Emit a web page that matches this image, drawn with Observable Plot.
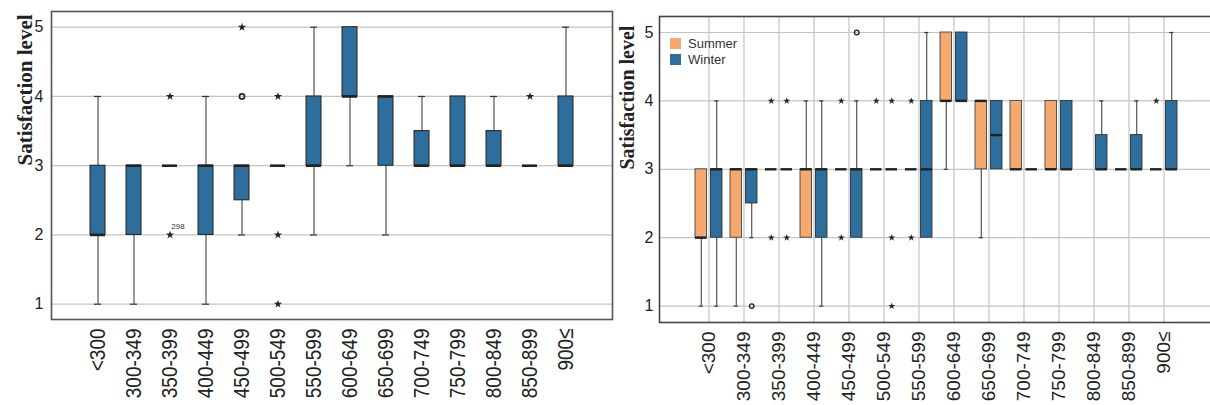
<!DOCTYPE html>
<html>
<head>
<meta charset="utf-8">
<script src="https://cdn.jsdelivr.net/npm/d3@7"></script>
<script src="https://cdn.jsdelivr.net/npm/@observablehq/plot@0.6"></script>
<style>
  html, body { margin: 0; padding: 0; background: #fff; overflow: hidden; }
  #wrap { position: relative; width: 1210px; height: 405px; overflow: hidden; display: flex; }
  #left { width: 616px; flex: none; }
  #right { width: 604px; flex: none; }
  svg { overflow: visible; }
  #legend { position: absolute; left: 670px; top: 36px; font-family: "Liberation Sans", Arial, sans-serif; font-size: 13px; color: #333; line-height: 15.5px; }
  #legend .row { display: flex; align-items: center; }
  #legend .sw { width: 11px; height: 11px; margin-right: 7px; }
</style>
</head>
<body>
<div id="wrap">
  <div id="left"></div>
  <div id="right"></div>
  <div id="legend"></div>
</div>
<script>
// ---------- categories ----------
const incomeBands = ["<300","300-349","350-399","400-449","450-499","500-549","550-599","600-649","650-699","700-749","750-799","800-849","850-899","900≤"];
const yTicks = [1, 2, 3, 4, 5];
const yLabel = "Satisfaction level";
const seasons = ["Summer", "Winter"];
const seasonColors = ["#f5a96e", "#2d6e9c"];

// ---------- left panel: all respondents ----------
const allQ1     = [2, 2,   3, 2, 2.5, 3, 3, 4, 3, 3,   3, 3,   3, 3];
const allQ3     = [3, 3,   3, 3, 3,   3, 4, 5, 4, 3.5, 4, 3.5, 3, 4];
const allMedian = [2, 3,   3, 3, 3,   3, 3, 4, 4, 3,   3, 3,   3, 3];
const allLow    = [1, 1,   3, 1, 2,   3, 2, 3, 2, 3,   3, 3,   3, 3];
const allHigh   = [4, 3,   3, 4, 3,   3, 5, 5, 4, 4,   4, 4,   3, 5];
const allStarBand  = ["350-399","350-399","450-499","500-549","500-549","500-549","850-899"];
const allStarValue = [4, 2, 5, 4, 2, 1, 4];
const allCircleBand  = ["450-499"];
const allCircleValue = [4];
const allCaseBand  = ["350-399"];
const allCaseValue = [2];
const allCaseLabel = ["298"];

// ---------- right panel: summer ----------
const sumQ1     = [2, 2, 3, 2, 3, 3, 3, 4, 3, 3, 3, null, 3, 3];
const sumQ3     = [3, 3, 3, 3, 3, 3, 3, 5, 4, 4, 4, null, 3, 3];
const sumMedian = [2, 3, 3, 3, 3, 3, 3, 4, 4, 3, 3, null, 3, 3];
const sumLow    = [1, 1, 3, 2, 3, 3, 3, 3, 2, 3, 3, null, 3, 3];
const sumHigh   = [3, 3, 3, 4, 3, 3, 3, 5, 4, 4, 4, null, 3, 3];
const sumStarBand  = ["350-399","350-399","450-499","450-499","500-549","550-599","550-599","900≤"];
const sumStarValue = [4, 2, 4, 2, 4, 4, 2, 4];

// ---------- right panel: winter ----------
const winQ1     = [2, 2.5, 3, 2, 2, 3, 2, 4, 3,   3, 3, 3,   3,   3];
const winQ3     = [3, 3,   3, 3, 3, 3, 4, 5, 4,   3, 4, 3.5, 3.5, 4];
const winMedian = [3, 3,   3, 3, 3, 3, 3, 4, 3.5, 3, 3, 3,   3,   3];
const winLow    = [1, 2,   3, 1, 2, 3, 2, 4, 3,   3, 3, 3,   3,   3];
const winHigh   = [4, 3,   3, 4, 4, 3, 5, 5, 4,   3, 4, 4,   4,   5];
const winStarBand  = ["350-399","350-399","500-549","500-549","500-549"];
const winStarValue = [4, 2, 4, 2, 1];
const winCircleBand  = ["300-349","450-499"];
const winCircleValue = [1, 5];

// ---------- helpers ----------
function boxRows(q1, q3, med, lo, hi) {
  return incomeBands.map((band, i) => ({band, q1: q1[i], q3: q3[i], median: med[i], lo: lo[i], hi: hi[i]}))
    .filter(d => d.q1 != null);
}
function pointRows(bands, values) {
  return bands.map((band, i) => ({band, value: values[i]}));
}
function stretchXLabels(svg, k) {
  svg.querySelectorAll('g[aria-label="x-axis tick label"] text').forEach(t => {
    const tr = t.getAttribute("transform") || "";
    t.setAttribute("transform", tr + ` scale(1,${k})`);
  });
}

const FONT = "Liberation Sans, Arial, sans-serif";
const INK = "#222";

// ---------- left chart ----------
const allRows = boxRows(allQ1, allQ3, allMedian, allLow, allHigh);
const left = Plot.plot({
  width: 616, height: 405,
  marginLeft: 51, marginRight: 4, marginTop: 11, marginBottom: 86,
  style: {fontFamily: FONT, background: "transparent", overflow: "visible"},
  x: {type: "band", domain: incomeBands, paddingInner: 0.583, paddingOuter: 1.083, label: null},
  y: {domain: [0.779, 5.227], label: null},
  marks: [
    Plot.gridY(yTicks, {stroke: "#c4c4c4", strokeOpacity: 1, strokeWidth: 1.2}),
    Plot.ruleX(allRows, {x: "band", y1: "lo", y2: "hi", stroke: "#333", strokeWidth: 1}),
    Plot.tickY(allRows.filter(d => d.lo < d.q1), {x: "band", y: "lo", stroke: "#333", strokeWidth: 1.2, insetLeft: 4, insetRight: 4}),
    Plot.tickY(allRows.filter(d => d.hi > d.q3), {x: "band", y: "hi", stroke: "#333", strokeWidth: 1.2, insetLeft: 4, insetRight: 4}),
    Plot.barY(allRows, {x: "band", y1: "q1", y2: "q3", fill: seasonColors[1], stroke: INK, strokeWidth: 1}),
    Plot.tickY(allRows, {x: "band", y: "median", stroke: INK, strokeWidth: 2.6}),
    Plot.dot(pointRows(allStarBand, allStarValue), {x: "band", y: "value", symbol: "star", fill: INK, r: 2.6}),
    Plot.dot(pointRows(allCircleBand, allCircleValue), {x: "band", y: "value", symbol: "circle", stroke: INK, strokeWidth: 1.6, fill: "none", r: 2.6}),
    Plot.text(allCaseBand.map((band, i) => ({band, value: allCaseValue[i], label: allCaseLabel[i]})), {x: "band", y: "value", text: "label", dx: 8, dy: -9, fontSize: 8, fill: "#333"}),
    Plot.frame({stroke: "#555", strokeWidth: 1.6}),
    Plot.axisY(yTicks, {tickSize: 0, tickPadding: 8, fontSize: 16, fill: INK, label: null, tickFormat: "d"}),
    Plot.axisX({tickSize: 0, tickPadding: 9, tickRotate: -90, fontSize: 19, fill: INK, label: null}),
    Plot.text([yLabel], {frameAnchor: "left", rotate: -90, dx: -26, fontSize: 21, fontWeight: "bold", fontFamily: "Liberation Serif, Times New Roman, serif", fill: INK})
  ]
});
stretchXLabels(left, 1.2);
document.getElementById("left").append(left);

// ---------- right chart ----------
const sumRows = boxRows(sumQ1, sumQ3, sumMedian, sumLow, sumHigh);
const winRows = boxRows(winQ1, winQ3, winMedian, winLow, winHigh);
const OFF = 7.75, INSET = 15.5, CAPIN = 3.75, CAPOUT = 19.25;
const right = Plot.plot({
  width: 604, height: 405,
  marginLeft: 43, marginRight: 7, marginTop: 16, marginBottom: 83,
  style: {fontFamily: FONT, background: "transparent", overflow: "visible"},
  x: {type: "band", domain: incomeBands, paddingInner: 0.222, paddingOuter: 0.806, label: null},
  y: {domain: [0.76, 5.234], label: null},
  marks: [
    Plot.gridY(yTicks, {stroke: "#c4c4c4", strokeOpacity: 1, strokeWidth: 1.2}),
    Plot.gridX({stroke: "#c4c4c4", strokeOpacity: 1, strokeWidth: 1.2}),
    // summer
    Plot.ruleX(sumRows, {x: "band", y1: "lo", y2: "hi", dx: -OFF, stroke: "#333", strokeWidth: 1}),
    Plot.tickY(sumRows.filter(d => d.lo < d.q1), {x: "band", y: "lo", stroke: "#333", strokeWidth: 1.2, insetLeft: CAPIN, insetRight: CAPOUT}),
    Plot.tickY(sumRows.filter(d => d.hi > d.q3), {x: "band", y: "hi", stroke: "#333", strokeWidth: 1.2, insetLeft: CAPIN, insetRight: CAPOUT}),
    Plot.barY(sumRows, {x: "band", y1: "q1", y2: "q3", fill: seasonColors[0], stroke: "#444", strokeWidth: 0.9, insetRight: INSET}),
    Plot.tickY(sumRows, {x: "band", y: "median", stroke: INK, strokeWidth: 2.4, insetRight: INSET}),
    // winter
    Plot.ruleX(winRows, {x: "band", y1: "lo", y2: "hi", dx: OFF, stroke: "#333", strokeWidth: 1}),
    Plot.tickY(winRows.filter(d => d.lo < d.q1), {x: "band", y: "lo", stroke: "#333", strokeWidth: 1.2, insetLeft: CAPOUT, insetRight: CAPIN}),
    Plot.tickY(winRows.filter(d => d.hi > d.q3), {x: "band", y: "hi", stroke: "#333", strokeWidth: 1.2, insetLeft: CAPOUT, insetRight: CAPIN}),
    Plot.barY(winRows, {x: "band", y1: "q1", y2: "q3", fill: seasonColors[1], stroke: "#333", strokeWidth: 0.9, insetLeft: INSET}),
    Plot.tickY(winRows, {x: "band", y: "median", stroke: INK, strokeWidth: 2.4, insetLeft: INSET}),
    // outliers
    Plot.dot(pointRows(sumStarBand, sumStarValue), {x: "band", y: "value", dx: -OFF, symbol: "star", fill: INK, r: 2.2}),
    Plot.dot(pointRows(winStarBand, winStarValue), {x: "band", y: "value", dx: OFF, symbol: "star", fill: INK, r: 2.2}),
    Plot.dot(pointRows(winCircleBand, winCircleValue), {x: "band", y: "value", dx: OFF, symbol: "circle", stroke: INK, strokeWidth: 1.3, fill: "none", r: 2.3}),
    Plot.frame({stroke: "#444", strokeWidth: 1.6}),
    Plot.axisY(yTicks, {tickSize: 0, tickPadding: 6, fontSize: 16, fill: INK, label: null, tickFormat: "d"}),
    Plot.axisX({tickSize: 0, tickPadding: 9, tickRotate: -90, fontSize: 19, fill: INK, label: null}),
    Plot.text([yLabel], {frameAnchor: "left", rotate: -90, dx: -32, fontSize: 20, fontWeight: "bold", fontFamily: "Liberation Serif, Times New Roman, serif", fill: INK})
  ]
});
document.getElementById("right").append(right);

// ---------- legend ----------
const legend = document.getElementById("legend");
seasons.forEach((s, i) => {
  const row = document.createElement("div");
  row.className = "row";
  const sw = document.createElement("span");
  sw.className = "sw";
  sw.style.background = seasonColors[i];
  const lab = document.createElement("span");
  lab.textContent = s;
  row.append(sw, lab);
  legend.append(row);
});
</script>
</body>
</html>
